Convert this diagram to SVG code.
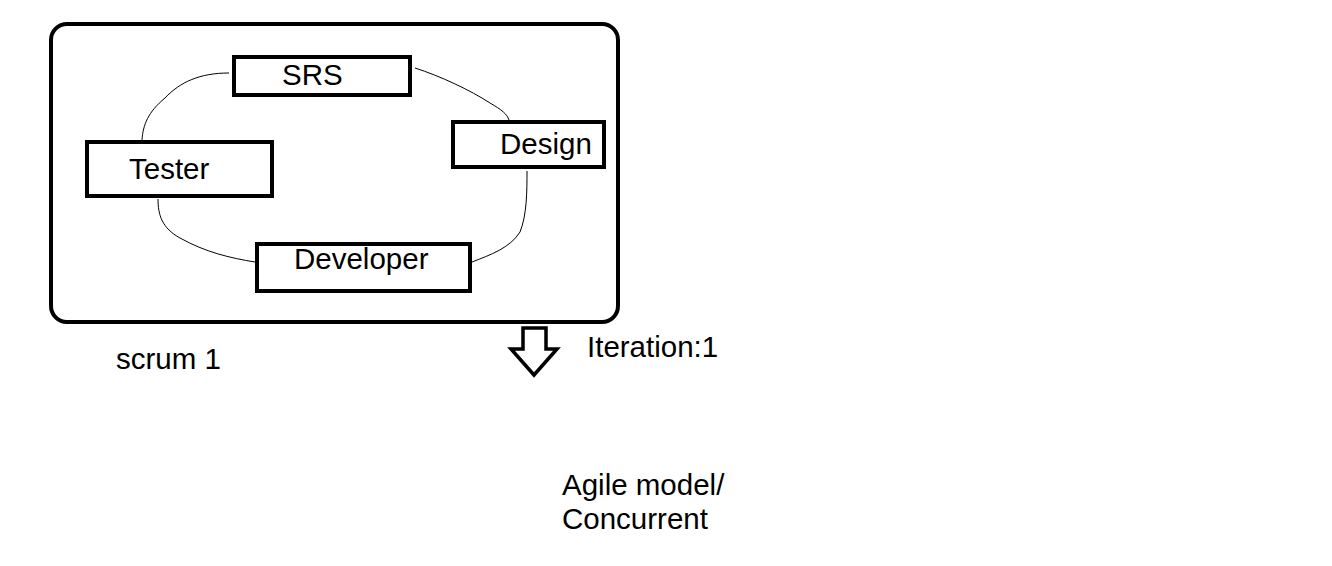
<svg xmlns="http://www.w3.org/2000/svg" width="1332" height="566" viewBox="0 0 1332 566">
<style>
.box{fill:none;stroke:#000;stroke-width:4}
.lbl{font-family:"Liberation Sans",Arial,sans-serif;font-size:29.5px;fill:#000}
.con{fill:none;stroke:#000;stroke-width:1}
</style>
<rect width="1332" height="566" fill="#fff"/>
<g id="scrum-frame">
<rect class="box" x="51" y="24" width="567" height="298" rx="16"/>
</g>
<g id="connectors">
<path class="con" d="M229,73 C200,73 180,82 165,98 C148,112 143,125 142,140"/>
<path class="con" d="M415,68 C440,76 470,90 490,103 C502,110 507,114 509,120"/>
<path class="con" d="M527,171 C527,190 527,215 520,232 C510,248 490,255 472,262"/>
<path class="con" d="M158,199 C158,215 162,228 180,238 C205,252 230,258 255,262"/>
</g>
<g id="srs">
<rect class="box" x="234" y="57" width="176" height="38"/>
<text class="lbl" x="282" y="85">SRS</text>
</g>
<g id="design">
<rect class="box" x="453" y="122" width="151" height="45"/>
<text class="lbl" x="500" y="154">Design</text>
</g>
<g id="tester">
<rect class="box" x="87" y="142" width="185" height="54"/>
<text class="lbl" x="129" y="179">Tester</text>
</g>
<g id="developer">
<rect class="box" x="257" y="244" width="213" height="47"/>
<text class="lbl" x="294" y="269">Developer</text>
</g>
<g id="scrum-label">
<text class="lbl" x="116" y="369">scrum 1</text>
</g>
<g id="iteration-arrow">
<polygon points="523,328 546,328 546,349 557,349 534,375 511,349 523,349" fill="#fff" stroke="#000" stroke-width="3.5" stroke-linejoin="miter"/>
<text class="lbl" x="587" y="357">Iteration:1</text>
</g>
<g id="agile-label">
<text class="lbl" x="562" y="495">Agile model/</text>
<text class="lbl" x="562" y="529">Concurrent</text>
</g>
</svg>
